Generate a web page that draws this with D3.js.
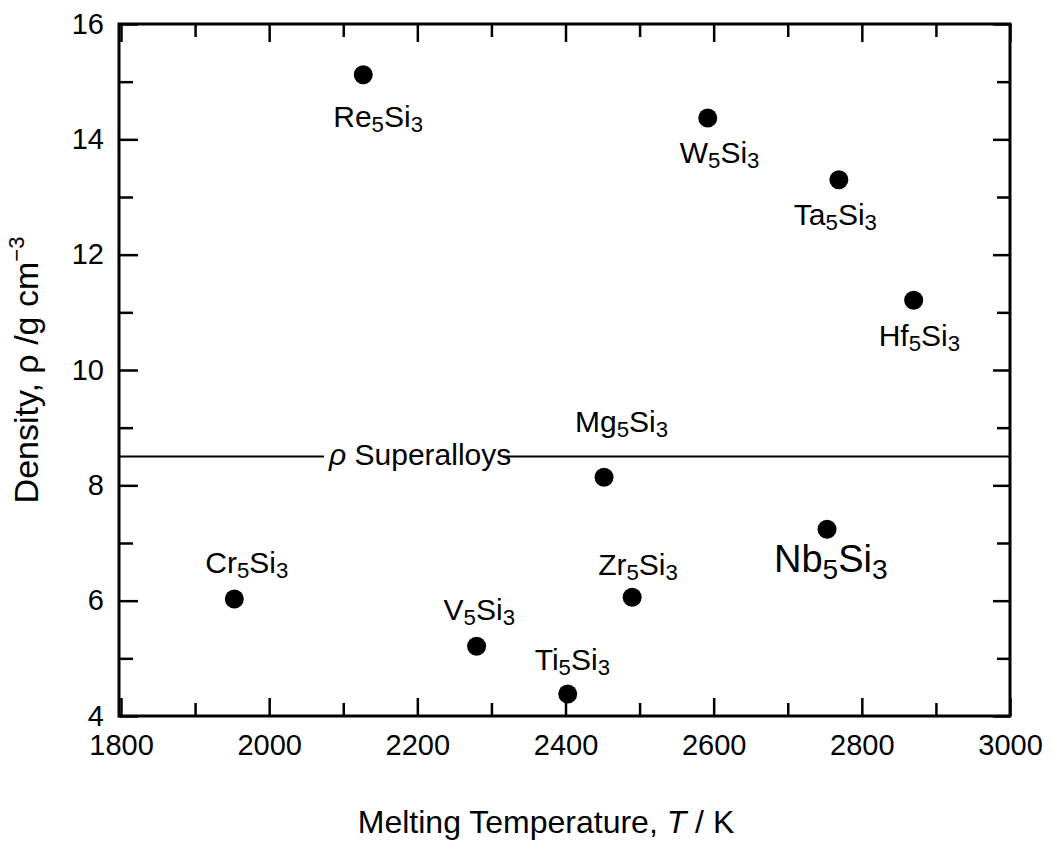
<!DOCTYPE html>
<html>
<head>
<meta charset="utf-8">
<script src="https://cdn.jsdelivr.net/npm/d3@7"></script>
<style>
  body { margin: 0; background: #fff; }
  svg { font-family: "Liberation Sans", Arial, Helvetica, sans-serif; }
</style>
</head>
<body>
<div id="chart"></div>
<script>
// silicides: melting temperature (K) vs density (g/cm3)
const compounds = ["Re5Si3", "W5Si3", "Ta5Si3", "Hf5Si3", "Mg5Si3", "Nb5Si3", "Cr5Si3", "Zr5Si3", "V5Si3", "Ti5Si3"];
const meltingT  = [2127, 2592, 2769, 2870, 2452, 2753, 1953, 2490, 2280, 2403];
const density   = [15.12, 14.37, 13.3, 11.21, 8.14, 7.24, 6.03, 6.06, 5.21, 4.38];
const superalloyDensity = 8.5;

const xMajor = [1800, 2000, 2200, 2400, 2600, 2800, 3000];
const xMinor = [1900, 2100, 2300, 2500, 2700, 2900];
const yMajor = [4, 6, 8, 10, 12, 14, 16];
const yMinor = [5, 7, 9, 11, 13, 15];

// label placement relative to its dot: [dx of text start, dy of baseline]
const labelOffset = {
    "Re5Si3": [-30, 52], "W5Si3": [-28, 45], "Ta5Si3": [-45, 45], "Hf5Si3": [-35, 46],
    "Mg5Si3": [-29, -45], "Nb5Si3": [-53, 43], "Cr5Si3": [-29, -26], "Zr5Si3": [-34, -22],
    "V5Si3": [-33, -26], "Ti5Si3": [-33, -24]
};

const width = 1055, height = 844;
const plotLeft = 119, plotRight = 1010, plotTop = 24, plotBottom = 716;

const svg = d3.select('#chart').append('svg')
    .attr('width', width)
    .attr('height', height);

const x = d3.scaleLinear().domain([1800, 3000]).range([121, plotRight]);
const y = d3.scaleLinear().domain([4, 16]).range([plotBottom, plotTop]);

const fmt = d3.format('d');

function drawAxis(axisFn, scale, values, size, transform, pad) {
    const g = svg.append('g')
        .attr('transform', transform)
        .call(axisFn(scale).tickValues(values).tickSize(-size).tickPadding(pad || 0)
            .tickFormat(pad ? fmt : ''));
    g.select('.domain').remove();
    g.selectAll('.tick line').attr('stroke', '#000').attr('stroke-width', 2.5);
    g.selectAll('.tick text').attr('font-size', 29).attr('fill', '#000')
        .attr('font-family', '"Liberation Sans", Arial, sans-serif');
    if (!pad) g.selectAll('.tick text').remove();
    return g;
}

// inward ticks on all four sides
drawAxis(d3.axisBottom, x, xMajor, 18, `translate(0,${plotBottom})`, 18);
drawAxis(d3.axisBottom, x, xMinor, 13, `translate(0,${plotBottom})`);
drawAxis(d3.axisTop, x, xMajor, 18, `translate(0,${plotTop})`);
drawAxis(d3.axisTop, x, xMinor, 13, `translate(0,${plotTop})`);
drawAxis(d3.axisLeft, y, yMajor, 19, `translate(${plotLeft},0)`, 15);
drawAxis(d3.axisLeft, y, yMinor, 14, `translate(${plotLeft},0)`);
drawAxis(d3.axisRight, y, yMajor, 17, `translate(${plotRight},0)`);
drawAxis(d3.axisRight, y, yMinor, 13, `translate(${plotRight},0)`);

// frame
svg.append('rect')
    .attr('x', plotLeft).attr('y', plotTop)
    .attr('width', plotRight - plotLeft).attr('height', plotBottom - plotTop)
    .attr('fill', 'none').attr('stroke', '#000').attr('stroke-width', 3);

// superalloy density line
svg.append('line')
    .attr('x1', plotLeft).attr('x2', plotRight)
    .attr('y1', y(superalloyDensity)).attr('y2', y(superalloyDensity))
    .attr('stroke', '#000').attr('stroke-width', 2);

const saBack = svg.append('rect').attr('fill', '#fff');
const saLabel = svg.append('text')
    .attr('x', 329).attr('y', y(superalloyDensity) + 8)
    .attr('font-size', 30);
saLabel.append('tspan').attr('font-style', 'italic').text('ρ');
saLabel.append('tspan').text(' Superalloys');
const bb = saLabel.node().getBBox();
saBack.attr('x', bb.x - 4).attr('y', y(superalloyDensity) - 3)
    .attr('width', bb.width - 4).attr('height', 6);

// points
const points = compounds.map((name, i) => ({ name, t: meltingT[i], rho: density[i] }));

svg.selectAll('.dot')
    .data(points)
    .join('circle')
    .attr('class', 'dot')
    .attr('cx', d => x(d.t))
    .attr('cy', d => y(d.rho))
    .attr('r', 9.5)
    .attr('fill', '#000');

// formula labels with subscripted digits
function addFormula(sel, formula, size) {
    const parts = formula.match(/[A-Za-z]+|\d+/g);
    let down = false;
    parts.forEach(p => {
        const ts = sel.append('tspan').text(p);
        if (/\d/.test(p)) {
            ts.attr('font-size', size * 0.74).attr('dy', size * 0.17);
            down = true;
        } else if (down) {
            ts.attr('dy', -size * 0.17);
            down = false;
        }
    });
}

points.forEach(d => {
    const size = d.name === 'Nb5Si3' ? 38 : 30;
    const off = labelOffset[d.name];
    const t = svg.append('text')
        .attr('class', 'label')
        .attr('x', x(d.t) + off[0])
        .attr('y', y(d.rho) + off[1])
        .attr('font-size', size)
        .attr('fill', '#000');
    addFormula(t, d.name, size);
});

// axis titles
const xt = svg.append('text')
    .attr('x', 546).attr('y', 833)
    .attr('text-anchor', 'middle')
    .attr('font-size', 32);
xt.append('tspan').text('Melting Temperature, ');
xt.append('tspan').attr('font-style', 'italic').text('T');
xt.append('tspan').text(' / K');

const yt = svg.append('text')
    .attr('transform', 'translate(38,370) rotate(-90)')
    .attr('text-anchor', 'middle')
    .attr('font-size', 34);
yt.append('tspan').text('Density, ρ /g cm');
yt.append('tspan').attr('font-size', 22).attr('dy', -14).text('−3');
</script>
</body>
</html>
